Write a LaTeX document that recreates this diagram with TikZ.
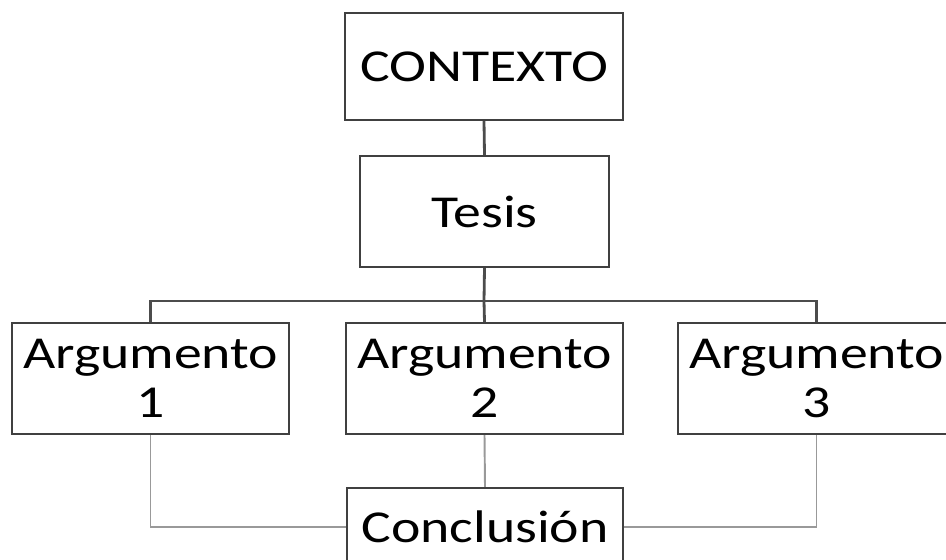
\documentclass[tikz,border=0pt]{standalone}
\usepackage{fontspec}
\setmainfont[FakeStretch=1.22]{Carlito}
\usepackage{tikz}
\tikzset{b/.style={draw=black!75, line width=1.3pt, fill=white, align=center, inner sep=0pt, font=\fontsize{26}{28}\selectfont}}
\tikzset{u/.style={draw=black!70, line width=1.6pt}}
\tikzset{d/.style={draw=black!40, line width=1.1pt}}

\begin{document}
\begin{tikzpicture}[x=0.02cm,y=-0.02cm]
        \clip (0,0) rectangle (946,559);
        \useasboundingbox (0,0) rectangle (946,559);
        \coordinate (bus) at (484,301);
        \node [b, minimum width=5.56cm, minimum height=2.14cm] (ctx) at (484,66.5) {CONTEXTO};
        \node [b, minimum width=4.98cm, minimum height=2.22cm] (tes) at (484.5,211.5) {Tesis};
        \node [b, minimum width=5.54cm, minimum height=2.22cm] (a1) at (150.5,378.5) {Argumento\\1};
        \node [b, minimum width=5.54cm, minimum height=2.22cm] (a2) at (484.5,378.5) {Argumento\\2};
        \node [b, minimum width=5.54cm, minimum height=2.22cm] (a3) at (816.5,378.5) {Argumento\\3};
        \node [b, minimum width=5.52cm, minimum height=1.56cm] (con) at (485,527) {Conclusión};
        \draw [u] (ctx.south) -- (tes.north);
        \draw [u] (tes.south) -- (bus);
        \draw [u] (a1.north) |- (bus);
        \draw [u] (a3.north) |- (bus);
        \draw [u] (a2.north) -- (bus);
        \draw [d] (a1.south) |- (con.west);
        \draw [d] (a3.south) |- (con.east);
        \draw [d] (a2.south) -- (con.north);
\end{tikzpicture}
\end{document}
